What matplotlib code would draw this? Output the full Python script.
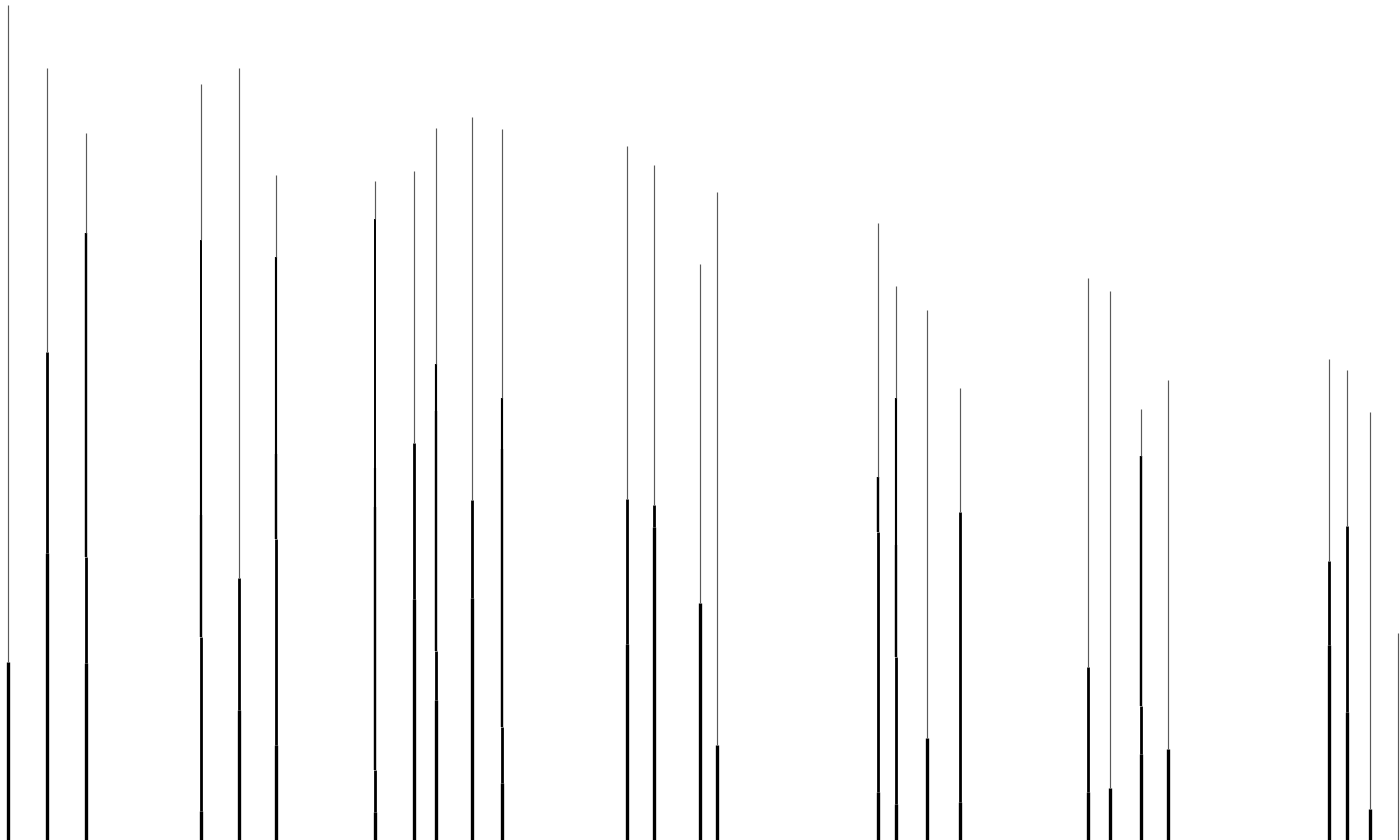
import matplotlib
matplotlib.use("Agg")
import matplotlib.pyplot as plt

# bar positions (0-100 across the figure)
positions = [0.57, 3.36, 6.14, 14.36, 17.07, 19.71, 26.79, 29.57, 31.14, 33.71,
             35.86, 44.79, 46.71, 50.0, 51.21, 62.71, 64.0, 66.21, 68.57,
             77.71, 79.29, 81.5, 83.43, 94.93, 96.21, 97.86, 99.86]

# cumulative tops of each stacked piece, bottom to top
levels = [
    [21.2, 99.4],
    [34.2, 58.1, 91.9],
    [21.1, 33.7, 72.3, 84.2],
    [3.5, 24.2, 38.7, 57.1, 71.4, 90.0],
    [15.5, 31.2, 91.9],
    [11.3, 35.8, 46.0, 69.4, 79.2],
    [3.3, 8.3, 39.6, 44.3, 73.9, 78.5],
    [28.7, 47.3, 79.6],
    [16.7, 22.5, 51.1, 56.7, 84.8],
    [28.8, 40.5, 86.1],
    [6.8, 13.5, 46.5, 52.6, 84.6],
    [23.3, 40.6, 82.6],
    [37.3, 39.9, 80.4],
    [28.2, 68.6],
    [11.3, 77.1],
    [5.7, 36.7, 43.2, 73.5],
    [4.3, 21.8, 35.1, 52.6, 66.0],
    [12.1, 63.1],
    [4.5, 39.0, 53.8],
    [5.7, 20.6, 66.9],
    [6.2, 65.4],
    [10.2, 16.0, 45.7, 51.3],
    [10.8, 54.8],
    [23.2, 33.2, 57.3],
    [15.2, 37.4, 56.0],
    [3.7, 51.0],
    [24.6],
]

# line width by piece index from the bottom
widths = [2.4, 2.0, 1.75, 1.55, 1.4, 1.3]

fig = plt.figure(figsize=(14, 8.4), dpi=100)
ax = fig.add_axes([0, 0, 1, 1])

for x, lv in zip(positions, levels):
    base = 0
    for i, top in enumerate(lv):
        if i == len(lv) - 1:
            # top piece is a thin grey hairline
            ax.vlines(x, base, top, colors="#5a5a5a", linewidth=0.85, capstyle="butt")
        else:
            ax.vlines(x, base, top, colors="black", linewidth=widths[i], capstyle="butt")
        base = top

ax.set_xlim(0, 100)
ax.set_ylim(0, 100)
ax.axis("off")

fig.savefig("out.png", dpi=100, facecolor="white")
